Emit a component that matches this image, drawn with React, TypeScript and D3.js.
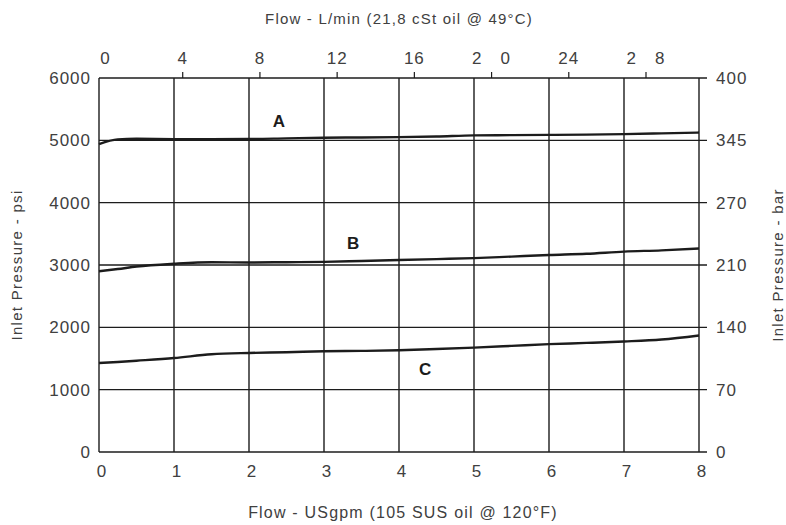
import React from 'react';
import { scaleLinear, line, curveMonotoneX } from 'd3';

// flow in USgpm, pressure in psi
const flowGpm = [0, 0.25, 0.5, 1, 1.5, 2, 2.5, 3, 3.5, 4, 4.5, 5, 5.5, 6, 6.5, 7, 7.5, 8];
const curveA = [4940, 5015, 5025, 5020, 5020, 5022, 5032, 5042, 5046, 5052, 5062, 5080, 5083, 5087, 5092, 5100, 5112, 5125];
const curveB = [2900, 2935, 2975, 3020, 3045, 3040, 3045, 3050, 3065, 3080, 3095, 3110, 3135, 3160, 3180, 3215, 3235, 3265];
const curveC = [1427, 1445, 1465, 1508, 1568, 1589, 1600, 1616, 1622, 1632, 1652, 1675, 1702, 1730, 1750, 1773, 1805, 1870];

const seriesNames = ['A', 'B', 'C'];
// where each letter sits: [gpm, psi]
const letterPos: [number, number][] = [[2.4, 5310], [3.39, 3350], [4.35, 1330]];

const gpmTicks = [0, 1, 2, 3, 4, 5, 6, 7, 8];
const psiTicks = [0, 1000, 2000, 3000, 4000, 5000, 6000];
const barLabels = ['0', '70', '140', '210', '270', '345', '400'];
const lpmTicks = [0, 4, 8, 12, 16, 20, 24, 28];
// the original prints 20 and 28 with a wide gap between the digits
const lpmLabels = ['0', '4', '8', '12', '16', '2\u20030', '24', '2\u20038'];

const W = 786;
const H = 525;
const margin = { left: 99, right: 87, top: 78, bottom: 73 };

const INK = '#1c1c1c';
const TEXT = '#404040';
const FONT = '"Liberation Sans", Arial, sans-serif';

const App: React.FC = () => {
  const x = scaleLinear().domain([0, 8]).range([margin.left, W - margin.right]);
  const y = scaleLinear().domain([0, 6000]).range([H - margin.bottom, margin.top]);
  // the L/min scale printed on top doesn't line up exactly with the gpm one
  const xTop = scaleLinear().domain([0, 28]).range([105.5, 646]);

  const path = line<number>()
    .x((d, i) => x(flowGpm[i]))
    .y((d) => y(d))
    .curve(curveMonotoneX);

  const series = [curveA, curveB, curveC];
  const [x0, x1] = x.range();
  const [yb, yt] = y.range();

  return (
    <svg
      width={W}
      height={H}
      style={{ position: 'absolute', left: 0, top: 0, background: '#fff' }}
      fontFamily={FONT}
    >
      {/* vertical grid */}
      {gpmTicks.map((t) => (
        <line key={'v' + t} x1={x(t)} x2={x(t)} y1={yb} y2={yt} stroke={INK} strokeWidth={1.4} />
      ))}
      {/* horizontal grid, running out as ticks on the right */}
      {psiTicks.map((t) => (
        <line key={'h' + t} x1={x0} x2={x1 + 8} y1={y(t)} y2={y(t)} stroke={INK} strokeWidth={1.4} />
      ))}
      {/* top ticks for L/min */}
      {lpmTicks.filter((t) => t > 0).map((t) => (
        <line key={'tt' + t} x1={xTop(t)} x2={xTop(t)} y1={yt - 6} y2={yt} stroke={INK} strokeWidth={1.2} />
      ))}

      {/* curves */}
      {series.map((s, i) => (
        <path key={seriesNames[i]} d={path(s) || ''} fill="none" stroke={INK} strokeWidth={2.4} />
      ))}
      {seriesNames.map((n, i) => (
        <text
          key={'lbl' + n}
          x={x(letterPos[i][0])}
          y={y(letterPos[i][1])}
          dy="0.35em"
          textAnchor="middle"
          fontFamily='"Liberation Sans Narrow", "Liberation Sans", sans-serif'
          fontWeight="bold"
          fontSize={17}
          fill={INK}
        >
          {n}
        </text>
      ))}

      {/* left psi labels */}
      {psiTicks.map((t) => (
        <text key={'lp' + t} x={x0 - 8} y={y(t)} dy="0.36em" textAnchor="end" fontSize={17} letterSpacing={1} fill={TEXT}>
          {t}
        </text>
      ))}
      {/* right bar labels */}
      {psiTicks.map((t, i) => (
        <text key={'rb' + t} x={x1 + 17} y={y(t)} dy="0.36em" textAnchor="start" fontSize={17} letterSpacing={1} fill={TEXT}>
          {barLabels[i]}
        </text>
      ))}
      {/* bottom gpm labels */}
      {gpmTicks.map((t) => (
        <text key={'bg' + t} x={x(t) + 3} y={yb + 25} textAnchor="middle" fontSize={17} letterSpacing={1} fill={TEXT}>
          {t}
        </text>
      ))}
      {/* top L/min labels */}
      {lpmTicks.map((t, i) => (
        <text key={'tl' + t} x={xTop(t)} y={yt - 14} textAnchor="middle" fontSize={17} letterSpacing={1} fill={TEXT}>
          {lpmLabels[i]}
        </text>
      ))}

      {/* titles */}
      <text x={(x0 + x1) / 2} y={24} textAnchor="middle" fontSize={15} letterSpacing={1.2} fill={TEXT}>
        Flow - L/min (21,8 cSt oil @ 49°C)
      </text>
      <text x={(x0 + x1) / 2 + 4} y={518} textAnchor="middle" fontSize={16} letterSpacing={1.2} fill={TEXT}>
        Flow - USgpm (105 SUS oil @ 120°F)
      </text>
      <text
        transform={`translate(22, ${(yb + yt) / 2}) rotate(-90)`}
        textAnchor="middle"
        fontSize={15}
        letterSpacing={1.3}
        fill={TEXT}
      >
        Inlet Pressure - psi
      </text>
      <text
        transform={`translate(783, ${(yb + yt) / 2}) rotate(-90)`}
        textAnchor="middle"
        fontSize={15}
        letterSpacing={1.3}
        fill={TEXT}
      >
        Inlet Pressure - bar
      </text>
    </svg>
  );
};

export default App;
